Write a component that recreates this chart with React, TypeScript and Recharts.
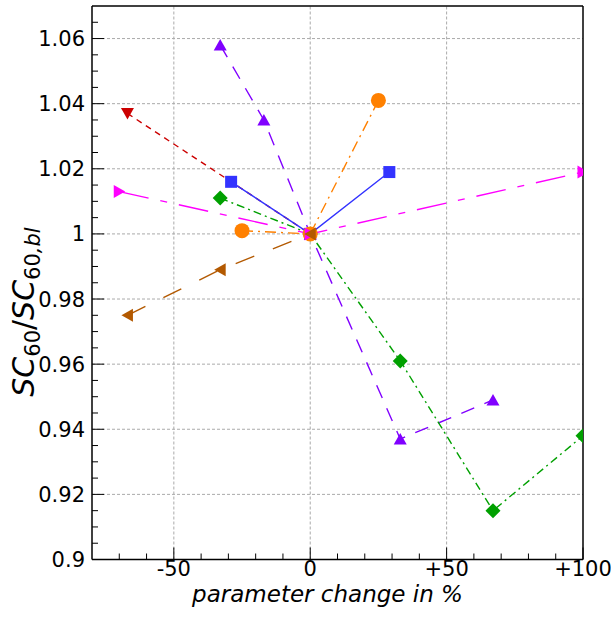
import React from "react";
import { LineChart, Line, XAxis, YAxis, ReferenceLine } from "recharts";

// series values (x: parameter change in %, y: SC60/SC60,bl)
const redX = [-67, 0];
const redY = [1.037, 1.0];
const blueX = [-29, 0, 29];
const blueY = [1.016, 1.0, 1.019];
const purpleX = [-33, -17, 0, 33, 67];
const purpleY = [1.058, 1.035, 1.0, 0.937, 0.949];
const greenX = [-33, 0, 33, 67, 100];
const greenY = [1.011, 1.0, 0.961, 0.915, 0.938];
const orangeX = [-25, 0, 25];
const orangeY = [1.001, 1.0, 1.041];
const magentaX = [-70, 0, 100];
const magentaY = [1.013, 1.0, 1.019];
const brownX = [-67, -33, 0];
const brownY = [0.975, 0.989, 1.0];

const xMajorTicks = [-50, 0, 50, 100];
const xTickLabels = ["-50", "0", "+50", "+100"];
const xMinorTicks = [-70, -60, -40, -30, -20, -10, 10, 20, 30, 40, 60, 70, 80, 90];
const yMajorTicks = [0.9, 0.92, 0.94, 0.96, 0.98, 1.0, 1.02, 1.04, 1.06];
const yTickLabels = ["0.9", "0.92", "0.94", "0.96", "0.98", "1", "1.02", "1.04", "1.06"];

const yMinorTicks: number[] = [];
for (let i = 0; i <= 33; i++) {
  const v = Number((0.9 + i * 0.005).toFixed(3));
  if (!yMajorTicks.some((t) => Math.abs(t - v) < 1e-6)) yMinorTicks.push(v);
}

const FONT = "DejaVu Sans";

const toPoints = (xs: number[], ys: number[]) => xs.map((x, i) => ({ x, y: ys[i] }));

const isMajor = (list: number[], v: number) => list.findIndex((t) => Math.abs(t - v) < 1e-6);

const YTick = (props: any) => {
  const { x, y, payload } = props;
  const idx = isMajor(yMajorTicks, payload.value);
  const len = idx >= 0 ? 12 : 6;
  return (
    <g>
      <line x1={x} x2={x + len} y1={y} y2={y} stroke="#000" strokeWidth={1} />
      {idx >= 0 && (
        <text x={x - 7} y={y + 7.5} textAnchor="end" fontFamily={FONT} fontSize={21} fill="#000">
          {yTickLabels[idx]}
        </text>
      )}
    </g>
  );
};

const XTick = (props: any) => {
  const { x, y, payload } = props;
  const idx = isMajor(xMajorTicks, payload.value);
  const len = idx >= 0 ? 12 : 6;
  return (
    <g>
      <line x1={x} x2={x} y1={y} y2={y - len} stroke="#000" strokeWidth={1} />
      {idx >= 0 && (
        <text x={x} y={y + 16.5} textAnchor="middle" fontFamily={FONT} fontSize={21} fill="#000">
          {xTickLabels[idx]}
        </text>
      )}
    </g>
  );
};

const XLabel = (props: any) => {
  const { viewBox } = props;
  return (
    <text
      x={viewBox.x + viewBox.width / 2 - 10}
      y={viewBox.y + 42.5}
      textAnchor="middle"
      fontFamily={FONT}
      fontSize={23}
      fontStyle="italic"
      fill="#000"
    >
      parameter change in %
    </text>
  );
};

const YLabel = () => (
  <text
    x={34}
    y={312}
    transform="rotate(-90, 34, 312)"
    textAnchor="middle"
    fontFamily={FONT}
    fontSize={30}
    fill="#000"
  >
    <tspan fontStyle="italic">SC</tspan>
    <tspan fontSize={21} dy={6}>60</tspan>
    <tspan dy={-6}>/</tspan>
    <tspan fontStyle="italic">SC</tspan>
    <tspan fontSize={21} dy={6}>60</tspan>
    <tspan fontSize={21} fontStyle="italic">,bl</tspan>
  </text>
);

type Shape = "square" | "up" | "down" | "left" | "right" | "circle" | "diamond";

const marker = (shape: Shape, color: string) => (props: any) => {
  const { cx, cy, index } = props;
  const k = `m-${index}`;
  if (shape === "square")
    return <rect key={k} x={cx - 6} y={cy - 6} width={12} height={12} fill={color} />;
  if (shape === "circle") return <circle key={k} cx={cx} cy={cy} r={7.5} fill={color} />;
  let pts = "";
  if (shape === "up") pts = `${cx},${cy - 6} ${cx - 6.5},${cy + 5.5} ${cx + 6.5},${cy + 5.5}`;
  if (shape === "down") pts = `${cx},${cy + 6} ${cx - 6.5},${cy - 5.5} ${cx + 6.5},${cy - 5.5}`;
  if (shape === "right") pts = `${cx + 6},${cy} ${cx - 5.5},${cy - 6.5} ${cx - 5.5},${cy + 6.5}`;
  if (shape === "left") pts = `${cx - 6},${cy} ${cx + 5.5},${cy - 6.5} ${cx + 5.5},${cy + 6.5}`;
  if (shape === "diamond")
    pts = `${cx},${cy - 7.5} ${cx + 7.5},${cy} ${cx},${cy + 7.5} ${cx - 7.5},${cy}`;
  return <polygon key={k} points={pts} fill={color} />;
};

const series = [
  { name: "red", xs: redX, ys: redY, color: "#cc0000", dash: "6 5", shape: "down" as Shape },
  { name: "blue", xs: blueX, ys: blueY, color: "#3333ff", dash: undefined, shape: "square" as Shape },
  { name: "purple", xs: purpleX, ys: purpleY, color: "#8000ff", dash: "14 11", shape: "up" as Shape },
  { name: "green", xs: greenX, ys: greenY, color: "#00a000", dash: "8 4 2 4", shape: "diamond" as Shape },
  { name: "orange", xs: orangeX, ys: orangeY, color: "#ff8000", dash: "11 5 2 5", shape: "circle" as Shape },
  { name: "magenta", xs: magentaX, ys: magentaY, color: "#ff00ff", dash: "30 12 7 12", shape: "right" as Shape },
  { name: "brown", xs: brownX, ys: brownY, color: "#b35900", dash: "20 20", shape: "left" as Shape },
];

export default function App() {
  const xTicks = [...xMajorTicks, ...xMinorTicks].sort((a, b) => a - b);
  const yTicks = [...yMajorTicks, ...yMinorTicks].sort((a, b) => a - b);
  return (
    <div style={{ position: "absolute", left: 0, top: 0, background: "#fff" }}>
      <LineChart width={611} height={621} margin={{ top: 6, right: 28, bottom: 0, left: 0 }}>
        <XAxis
          type="number"
          dataKey="x"
          domain={[-80, 100]}
          ticks={xTicks}
          interval={0}
          tickSize={0}
          tickMargin={0}
          tickLine={false}
          tick={<XTick />}
          height={61.5}
          axisLine={{ stroke: "#000", strokeWidth: 1.5 }}
          label={<XLabel />}
          allowDataOverflow
        />
        <YAxis
          type="number"
          dataKey="y"
          domain={[0.9, 1.07]}
          ticks={yTicks}
          interval={0}
          tickSize={0}
          tickMargin={0}
          tickLine={false}
          tick={<YTick />}
          width={92}
          axisLine={{ stroke: "#000", strokeWidth: 1.5 }}
          label={<YLabel />}
          allowDataOverflow
        />
        {[-50, 0, 50].map((v) => (
          <ReferenceLine key={`gx${v}`} x={v} stroke="#aaaaaa" strokeDasharray="3 2" strokeWidth={1} />
        ))}
        {yMajorTicks.slice(1).map((v) => (
          <ReferenceLine key={`gy${v}`} y={v} stroke="#aaaaaa" strokeDasharray="3 2" strokeWidth={1} />
        ))}
        <ReferenceLine x={100} stroke="#000" strokeWidth={1.5} />
        <ReferenceLine y={1.07} stroke="#000" strokeWidth={1.5} />
        {series.map((s) => (
          <Line
            key={s.name}
            data={toPoints(s.xs, s.ys)}
            dataKey="y"
            type="linear"
            stroke={s.color}
            strokeWidth={1.4}
            strokeDasharray={s.dash}
            dot={marker(s.shape, s.color)}
            activeDot={false}
            isAnimationActive={false}
          />
        ))}
      </LineChart>
    </div>
  );
}
